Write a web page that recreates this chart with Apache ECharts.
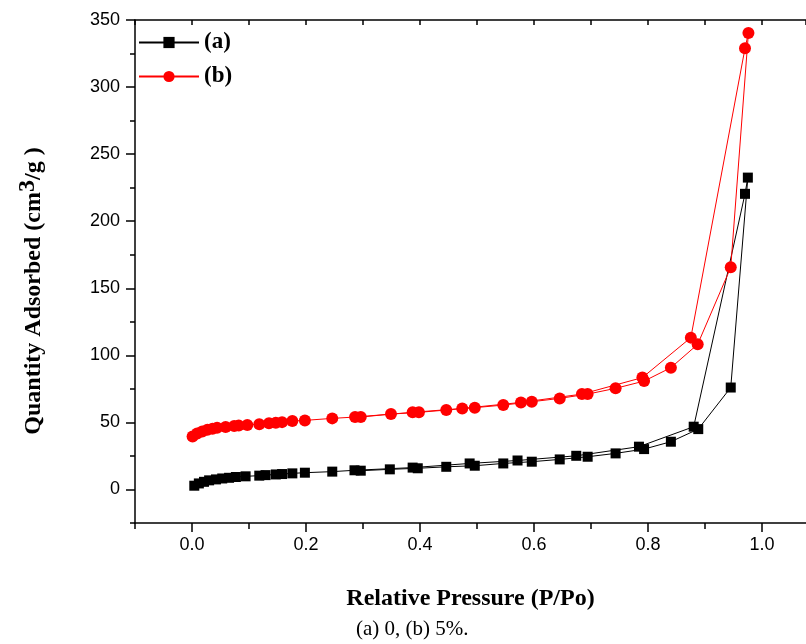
<!DOCTYPE html>
<html>
<head>
<meta charset="utf-8">
<script src="https://cdn.jsdelivr.net/npm/echarts@6/dist/echarts.min.js"></script>
<style>html,body{margin:0;padding:0;background:#fff;}#c{width:806px;height:644px;}</style>
</head>
<body>
<div id="c"></div>
<script>
// Sample (a): adsorption (ascending P/Po) then desorption (descending)
var aX = [0.004, 0.012, 0.021, 0.030, 0.042, 0.053, 0.065, 0.077, 0.094, 0.118, 0.129, 0.147, 0.158, 0.176, 0.198, 0.246, 0.285, 0.387, 0.487, 0.571, 0.674, 0.784, 0.880, 0.970, 0.975, 0.945, 0.888, 0.840, 0.793, 0.743, 0.694, 0.645, 0.596, 0.546, 0.496, 0.446, 0.396, 0.347, 0.296];
var aY = [2.8, 4.5, 5.7, 6.8, 7.5, 8.2, 8.7, 9.3, 9.8, 10.3, 10.7, 11.2, 11.5, 12.0, 12.5, 13.3, 14.3, 16.3, 19.4, 21.6, 25.1, 31.9, 46.8, 220.4, 232.5, 76.0, 45.0, 35.6, 30.1, 26.9, 24.4, 22.4, 20.7, 19.4, 17.7, 16.9, 15.8, 15.0, 14.0];
// Sample (b)
var bX = [0.001, 0.009, 0.018, 0.027, 0.036, 0.044, 0.059, 0.074, 0.082, 0.097, 0.118, 0.135, 0.147, 0.158, 0.176, 0.198, 0.246, 0.286, 0.387, 0.474, 0.577, 0.684, 0.790, 0.875, 0.970, 0.976, 0.945, 0.887, 0.840, 0.793, 0.743, 0.694, 0.645, 0.596, 0.546, 0.496, 0.446, 0.398, 0.349, 0.296];
var bY = [39.5, 41.8, 43.3, 44.5, 45.3, 46.0, 46.5, 47.3, 47.6, 48.0, 48.7, 49.3, 49.8, 50.2, 51.0, 51.5, 53.0, 54.0, 57.5, 60.4, 64.9, 71.1, 83.4, 113.2, 328.9, 340.3, 165.6, 108.2, 90.8, 80.8, 75.4, 71.1, 67.9, 65.4, 62.9, 61.0, 59.2, 57.5, 56.2, 54.0];
var seriesNames = ['(a)', '(b)'];
var xMajor = [0, 0.2, 0.4, 0.6, 0.8, 1.0];
var yMajor = [0, 50, 100, 150, 200, 250, 300, 350];
var xTitle = 'Relative Pressure (P/Po)';
var yTitle = ['Quantity Adsorbed (cm', '3', '/g )'];
var caption = '(a) 0, (b) 5%.';

function zip(xs, ys) { return xs.map(function (x, i) { return [x, ys[i]]; }); }

var serif = '"Liberation Serif", "Times New Roman", serif';
var sans = '"Liberation Sans", Arial, sans-serif';
var X_MIN = -0.1, X_MAX = 1.077, Y_MIN = -25, Y_MAX = 350;

var chart = echarts.init(document.getElementById('c'), null, {renderer: 'canvas'});
chart.setOption({
  animation: false,
  backgroundColor: '#fff',
  grid: {left: 135, top: 20, right: 0, bottom: 121, containLabel: false},
  legend: {
    orient: 'vertical', left: 138, top: 31, itemGap: 11, padding: 0,
    itemWidth: 60, itemHeight: 14,
    textStyle: {fontFamily: serif, fontWeight: 'bold', fontSize: 23, color: '#000'},
    data: seriesNames
  },
  xAxis: [{
    type: 'value', min: X_MIN, max: X_MAX, interval: 0.1,
    name: xTitle, nameLocation: 'middle', nameGap: 64,
    nameTextStyle: {fontFamily: serif, fontWeight: 'bold', fontSize: 24, color: '#000'},
    axisLine: {onZero: false, lineStyle: {color: '#000', width: 1.5}},
    axisTick: {inside: false, length: 6, lineStyle: {color: '#000', width: 1.5}},
    axisLabel: {
      margin: 13, fontFamily: sans, fontSize: 18, color: '#000', showMaxLabel: false,
      formatter: function (v) { var k = Math.round(v * 10); return (k % 2 === 0 && k >= 0 && k <= 10) ? (k / 10).toFixed(1) : ''; }
    },
    splitLine: {show: false}
  }, {
    type: 'value', position: 'top', min: X_MIN, max: X_MAX, interval: 0.1,
    axisLine: {onZero: false, lineStyle: {color: '#000', width: 1.5}},
    axisTick: {inside: true, length: 5, lineStyle: {color: '#000', width: 1.5}},
    axisLabel: {show: false}, splitLine: {show: false}
  }, {
    type: 'value', position: 'bottom', min: X_MIN, max: X_MAX,
    axisLine: {show: false, onZero: false},
    axisTick: {show: true, inside: false, length: 9, customValues: xMajor, lineStyle: {color: '#000', width: 1.5}},
    axisLabel: {show: false}, splitLine: {show: false}
  }],
  yAxis: [{
    type: 'value', min: Y_MIN, max: Y_MAX, interval: 25,
    axisLine: {onZero: false, lineStyle: {color: '#000', width: 1.5}},
    axisTick: {inside: false, length: 5, lineStyle: {color: '#000', width: 1.5}},
    axisLabel: {
      margin: 15, fontFamily: sans, fontSize: 18, color: '#000',
      formatter: function (v) { return (v % 50 === 0 && v >= 0) ? String(v) : ''; }
    },
    splitLine: {show: false}
  }, {
    type: 'value', position: 'left', min: Y_MIN, max: Y_MAX,
    axisLine: {show: false, onZero: false},
    axisTick: {show: true, inside: false, length: 9, customValues: yMajor, lineStyle: {color: '#000', width: 1.5}},
    axisLabel: {show: false}, splitLine: {show: false}
  }],
  series: [{
    name: seriesNames[0], type: 'line', xAxisIndex: 0, yAxisIndex: 0,
    data: zip(aX, aY), symbol: 'rect', symbolSize: 10, showAllSymbol: true,
    itemStyle: {color: '#000'}, lineStyle: {color: '#000', width: 1}
  }, {
    name: seriesNames[1], type: 'line', xAxisIndex: 0, yAxisIndex: 0,
    data: zip(bX, bY), symbol: 'circle', symbolSize: 12, showAllSymbol: true,
    itemStyle: {color: '#ff0000'}, lineStyle: {color: '#ff0000', width: 1}
  }],
  graphic: [{
    type: 'text', x: 34, y: 291, rotation: Math.PI / 2,
    style: {
      text: '{t|' + yTitle[0] + '}{s|' + yTitle[1] + '}{t|' + yTitle[2] + '}',
      align: 'center', verticalAlign: 'middle',
      rich: {
        t: {fontFamily: serif, fontWeight: 'bold', fontSize: 24, fill: '#000'},
        s: {fontFamily: serif, fontWeight: 'bold', fontSize: 24, fill: '#000', padding: [0, 0, 12, 0]}
      }
    }
  }, {
    type: 'text', left: 356, top: 619,
    style: {text: caption, fontFamily: serif, fontSize: 21, fill: '#000'}
  }]
});
</script>
</body>
</html>
